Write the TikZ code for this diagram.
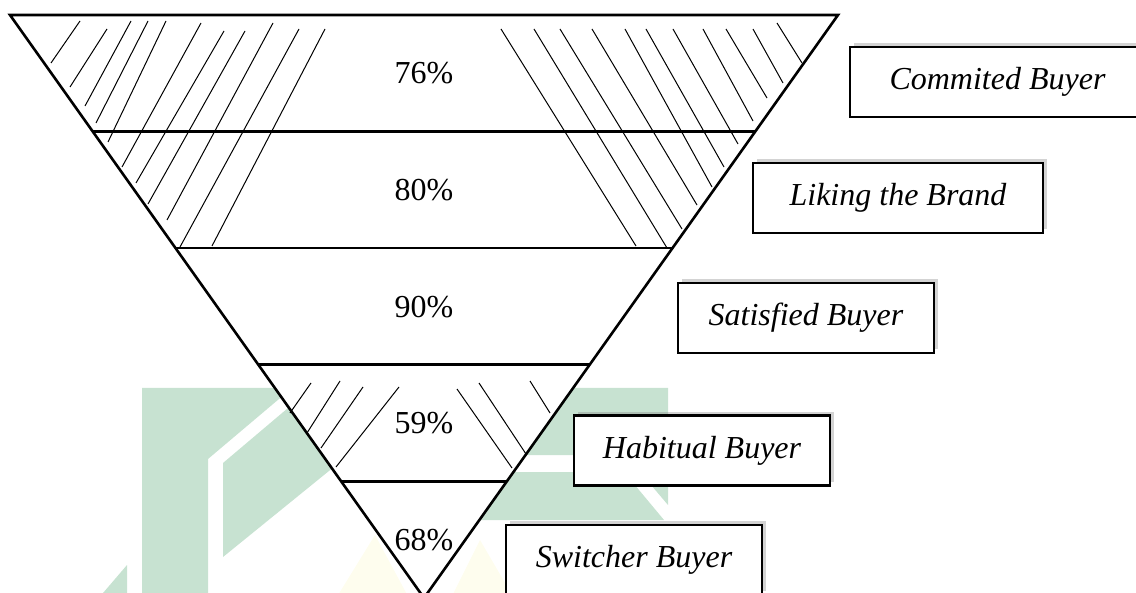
\documentclass[tikz,border=0pt]{standalone}
\usepackage{fontspec}
\setmainfont{Liberation Serif}
\usetikzlibrary{calc,shadows}
\definecolor{wmgreen}{RGB}{199,226,209}
\definecolor{wmyellow}{RGB}{254,253,238}

\begin{document}
\begin{tikzpicture}[x=0.5pt,y=-0.5pt,
  level/.style={font=\fontsize{16}{19}\selectfont},
  buyer/.style={draw,line width=1.1pt,fill=white,minimum width=128pt,minimum height=35pt,
    inner sep=0pt,font=\fontsize{16}{19}\selectfont\itshape,
    drop shadow={shadow xshift=1.8pt,shadow yshift=1.8pt,opacity=0.35}},
  hatch/.style={line width=0.5pt},
  band/.style={line width=1.3pt}]
  \useasboundingbox (0,0) rectangle (1136,593);
  % watermark
  \fill[wmgreen] (142,388) -- (292,388) -- (208,459) -- (208,600) -- (142,600) -- cycle;
  \fill[wmgreen] (223,463) -- (340,364) -- (340,462) -- (223,557) -- cycle;
  \fill[wmgreen] (97,600) -- (127,565) -- (127,600) -- cycle;
  \fill[wmgreen] (520,388) -- (668,388) -- (668,455) -- (500,455) -- cycle;
  \fill[wmgreen] (480,472) -- (624,472) -- (664,520) -- (480,520) -- cycle;
  \fill[wmgreen] (640,472) -- (668,472) -- (668,505) -- cycle;
  \fill[wmyellow] (335,600) -- (375,535) -- (410,600) -- cycle;
  \fill[wmyellow] (450,600) -- (480,540) -- (515,600) -- cycle;

  \coordinate (tl) at (10,15);
  \coordinate (tr) at (838,15);
  \coordinate (ap) at (424,598);
  \draw[band,fill=white,line join=miter] (tl) -- (tr) -- (ap) -- cycle;

  \foreach \xa/\ya/\xb/\yb in {80/21/51/63, 107/29/70/87, 131/21/85/106, 148/21/96/123,
      166/21/108/142, 201/23/122/167, 224/31/136/183, 245/31/148/204, 273/23/167/220,
      299/29/180/247, 325/29/212/246,
      501/29/636/246, 534/29/667/248, 560/29/682/229, 592/29/697/205, 625/29/712/187,
      646/29/724/167, 673/29/738/144, 703/29/753/121, 726/29/767/98, 753/29/783/83,
      777/23/802/63,
      311/383/290/413, 340/381/307/433, 363/387/321/448, 399/387/336/467,
      457/389/512/468, 479/383/526/454, 530/381/550/413}
    \draw[hatch] (\xa,\ya) -- (\xb,\yb);

  \foreach \k in {1,...,4}
    \draw[band] ($(tl)!\k/5!(ap)$) -- ($(tr)!\k/5!(ap)$);

  \node[level] (p76) at (424,73) {76\%};
  \node[level] (p80) at (424,190) {80\%};
  \node[level] (p90) at (424,307) {90\%};
  \node[level] (p59) at (424,423) {59\%};
  \node[level] (p68) at (424,540) {68\%};

  \node[buyer,minimum width=147.5pt] (committed) at (997.5,82) {Commited Buyer};
  \node[buyer,minimum width=145pt] (liking) at (898,198) {Liking the Brand};
  \node[buyer] (satisfied) at (806,318) {Satisfied Buyer};
  \node[buyer] (habitual) at (702,450.5) {Habitual Buyer};
  \node[buyer] (switcher) at (634,560) {Switcher Buyer};
\end{tikzpicture}
\end{document}
